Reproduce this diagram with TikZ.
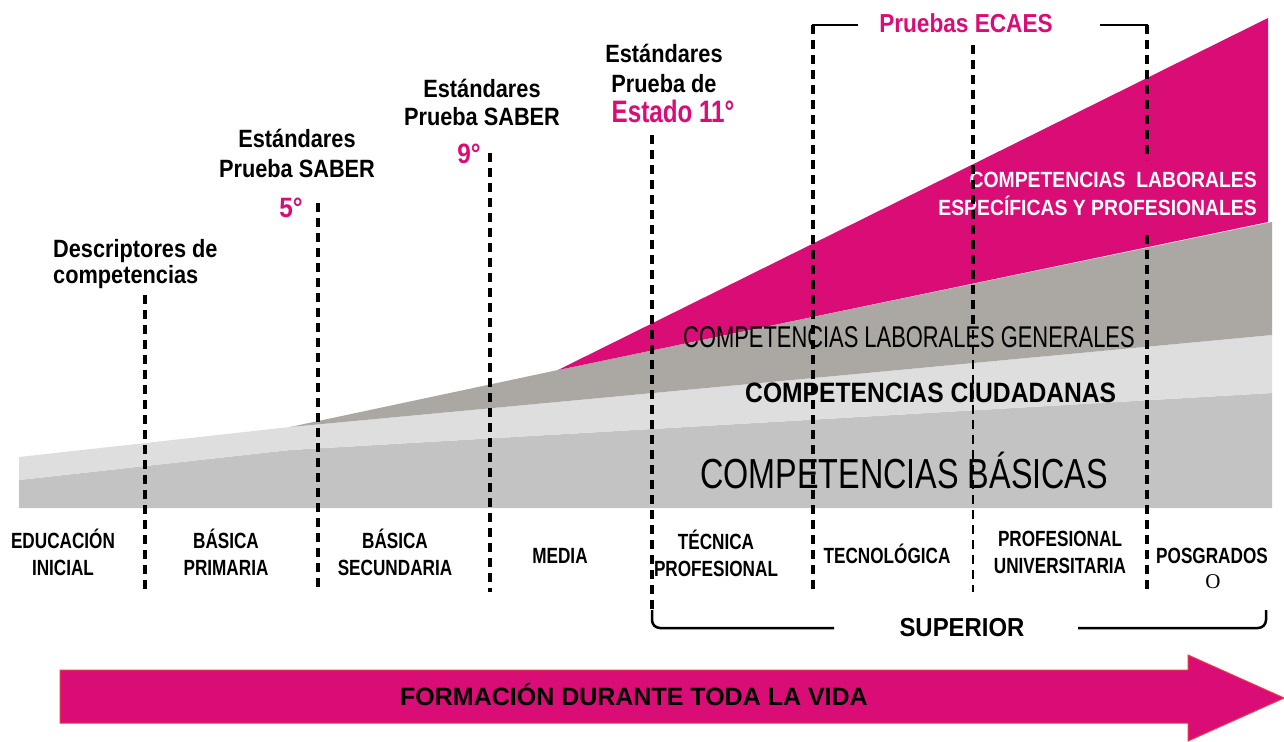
\documentclass[tikz,border=0pt]{standalone}
\usepackage{fontspec}
\setmainfont{Liberation Sans}
\newfontfamily\fA[FakeStretch=0.87]{Liberation Sans}
\newfontfamily\fB[FakeStretch=0.78]{Liberation Sans}
\newfontfamily\fW[FakeStretch=0.88]{Liberation Sans}
\newfontfamily\fG[FakeStretch=0.73]{Liberation Sans}
\newfontfamily\fC[FakeStretch=0.88]{Liberation Sans}
\newfontfamily\fK[FakeStretch=0.77]{Liberation Sans}
\newfontfamily\fS[FakeStretch=0.92]{Liberation Sans}
\newfontfamily\fO{Liberation Serif}
\definecolor{mag}{RGB}{218,12,118}
\definecolor{magedge}{RGB}{232,60,70}
\definecolor{gmed}{RGB}{195,195,195}
\definecolor{glight}{RGB}{222,222,222}
\definecolor{gdark}{RGB}{171,167,163}
\tikzset{
  dl/.style={draw=black, line width=3.5pt, dash pattern=on 9pt off 6pt},
  br/.style={draw=black, line width=2.5pt},
  toplab/.style={inner sep=0pt, align=center, font=\fA\bfseries\fontsize{25}{29}\selectfont},
  botlab/.style={inner sep=0pt, align=center, font=\fB\bfseries\fontsize{22}{27}\selectfont},
  grade/.style={inner sep=0pt, text=mag, font=\fA\bfseries\fontsize{28}{28}\selectfont},
}
\begin{document}
\begin{tikzpicture}[x=1pt,y=-1pt]
\useasboundingbox (0,0) rectangle (1284,741);
\fill[white] (0,0) rectangle (1284,741);

% bands
\fill[gmed] (19,480) -- (290,450) -- (1272,393) -- (1272,508) -- (19,508) -- cycle;
\fill[glight] (19,457) -- (290,427) -- (1272,335) -- (1272,393) -- (290,450) -- (19,480) -- cycle;
\fill[gdark] (290,427) -- (558,370) -- (1272,222) -- (1272,335) -- cycle;
\fill[mag] (558,370) -- (1268,18) -- (1268,222) -- cycle;

% band texts
\node[anchor=base east, align=right, inner sep=0pt, text=white,
      font=\fW\bfseries\fontsize{22}{28}\selectfont] (cle) at (1257,215)
      {COMPETENCIAS\ \ LABORALES\\ESPECÍFICAS Y PROFESIONALES};
\node[anchor=base west, inner sep=0pt, font=\fG\fontsize{30}{30}\selectfont] (clg) at (683,347) {COMPETENCIAS LABORALES GENERALES};
\node[anchor=base west, inner sep=0pt, font=\fC\bfseries\fontsize{28}{28}\selectfont] (cc) at (745,402) {COMPETENCIAS CIUDADANAS};
\node[anchor=base west, inner sep=0pt, font=\fK\fontsize{42}{42}\selectfont] (cb) at (700,488) {COMPETENCIAS BÁSICAS};

% top labels
\node[toplab, anchor=base west, align=left, font=\fA\bfseries\fontsize{25}{26}\selectfont] (desc) at (53,283) {Descriptores de\\competencias};
\node[toplab, anchor=base, font=\fA\bfseries\fontsize{25}{30}\selectfont] (s5) at (297,177) {Estándares\\Prueba SABER};
\node[grade, anchor=base] (g5) at (291,217) {5°};
\node[toplab, anchor=base, font=\fA\bfseries\fontsize{25}{28}\selectfont] (s9) at (482,125) {Estándares\\Prueba SABER};
\node[grade, anchor=base] (g9) at (469,163) {9°};
\node[toplab, anchor=base, font=\fA\bfseries\fontsize{25}{30}\selectfont] (s11) at (664,93) {Estándares\\Prueba de};
\node[anchor=base, inner sep=0pt, text=mag, font=\fB\bfseries\fontsize{31}{31}\selectfont] (e11) at (673,122) {Estado 11°};
\node[anchor=base, inner sep=0pt, text=mag, font=\fA\bfseries\fontsize{26}{26}\selectfont] (ecaes) at (966,33) {Pruebas ECAES};

% bottom labels
\node[botlab, anchor=base] (ei) at (63,575) {EDUCACIÓN\\INICIAL};
\node[botlab, anchor=base] (bp) at (226,575) {BÁSICA\\PRIMARIA};
\node[botlab, anchor=base] (bs) at (395,575) {BÁSICA\\SECUNDARIA};
\node[botlab, anchor=base] (me) at (560,563) {MEDIA};
\node[botlab, anchor=base] (tp) at (716,576) {TÉCNICA\\PROFESIONAL};
\node[botlab, anchor=base] (te) at (887,563) {TECNOLÓGICA};
\node[botlab, anchor=base] (pu) at (1060,573) {PROFESIONAL\\UNIVERSITARIA};
\node[botlab, anchor=base] (po) at (1212,563) {POSGRADOS};
\node[anchor=base, inner sep=0pt, font=\fO\fontsize{21}{21}\selectfont] (poo) at (1213,588) {O};
\node[anchor=base, inner sep=0pt, font=\fS\bfseries\fontsize{26}{26}\selectfont] (sup) at (962,636) {SUPERIOR};

% dashed lines
\draw[dl] (145,295) -- (145,592);
\draw[dl] (318,203) -- (318,592);
\draw[dl] (490,153) -- (490,592);
\draw[dl] (652,135) -- (652,612);
\draw[br, rounded corners=8pt] (652,610) -- (652,628) -- (834,628);
\draw[br, rounded corners=8pt] (1078,628) -- (1266,628) -- (1266,610);
\draw[br] (858,25) -- (812,25);
\draw[dl] (813,25) -- (813,592);
\draw[br] (1100,25) -- (1148,25);
\draw[dl] (1147,25) -- (1147,160);
\draw[dl] (1147,235) -- (1147,592);
\draw[dl] (973,45) -- (973,330);
\draw[dl, line width=2pt] (973,330) -- (973,592);

% arrow
\filldraw[fill=mag, draw=magedge, line width=1pt] (60,670) -- (1188,670) -- (1188,655) -- (1284,698) -- (1188,741) -- (1188,723) -- (60,723) -- cycle;
\node[anchor=base, inner sep=0pt, font=\bfseries\fontsize{25}{25}\selectfont] (fdv) at (634,705) {FORMACIÓN DURANTE TODA LA VIDA};
\end{tikzpicture}
\end{document}
